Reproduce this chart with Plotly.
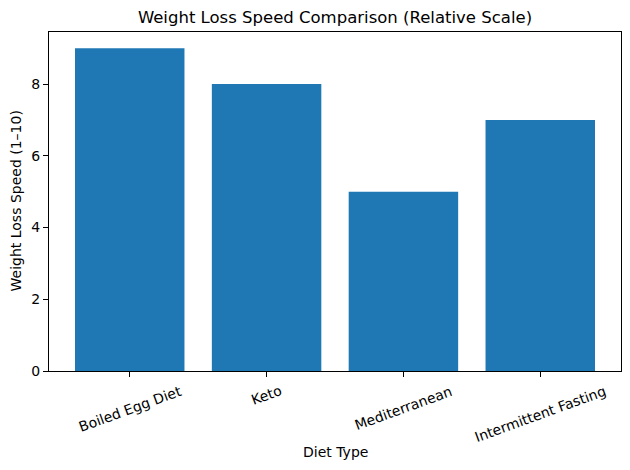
import plotly.graph_objects as go

diets = ["Boiled Egg Diet", "Keto", "Mediterranean", "Intermittent Fasting"]
speed = [9, 8, 5, 7]
y_ticks = [0, 2, 4, 6, 8]

OFF = 8  # default page body margin
W, H = 630 - OFF, 470 - OFF
L, R, T, B = 49 - OFF, 9, 32 - OFF, 470 - OFF - (371 - OFF)
PW, PH = W - L - R, H - T - B

fig = go.Figure(go.Bar(x=diets, y=speed, marker=dict(color="#1f77b4", line=dict(width=0)), width=0.8))

fig.update_layout(
    width=W, height=H,
    margin=dict(l=L, r=R, t=T, b=B, autoexpand=False),
    paper_bgcolor="white", plot_bgcolor="white",
    font=dict(family="DejaVu Sans", size=14, color="black"),
    title=dict(text="Weight Loss Speed Comparison (Relative Scale)", x=(L + PW / 2) / W, xanchor="center",
               y=1 - (17 - OFF) / H, yanchor="middle", font=dict(size=16.5)),
    showlegend=False,
)
fig.update_xaxes(
    range=[-0.59, 3.59], showticklabels=False, ticks="outside", ticklen=5, tickcolor="black",
    showline=True, linecolor="black", linewidth=1, mirror=True, showgrid=False, automargin=False,
)
fig.update_yaxes(
    range=[0, 9.45], tickvals=y_ticks, ticks="outside", ticklen=5, tickcolor="black",
    showline=True, linecolor="black", linewidth=1, mirror=True, showgrid=False, zeroline=False,
    tickfont=dict(size=14), automargin=False,
)
# rotated, centre-aligned category labels (matplotlib style)
for d in diets:
    fig.add_annotation(x=d, y=0, xref="x", yref="paper", yshift=-9, text=d, textangle=-20,
                       showarrow=False, xanchor="center", yanchor="top", font=dict(size=14))
fig.add_annotation(x=0.5, y=-(452 - 371) / PH, xref="paper", yref="paper", text="Diet Type",
                   showarrow=False, xanchor="center", yanchor="middle", font=dict(size=14))
fig.add_annotation(x=-(49 - 15) / PW, y=0.5, xref="paper", yref="paper", text="Weight Loss Speed (1–10)",
                   textangle=-90, showarrow=False, xanchor="center", yanchor="middle", font=dict(size=14))
fig.write_html("out.html")
